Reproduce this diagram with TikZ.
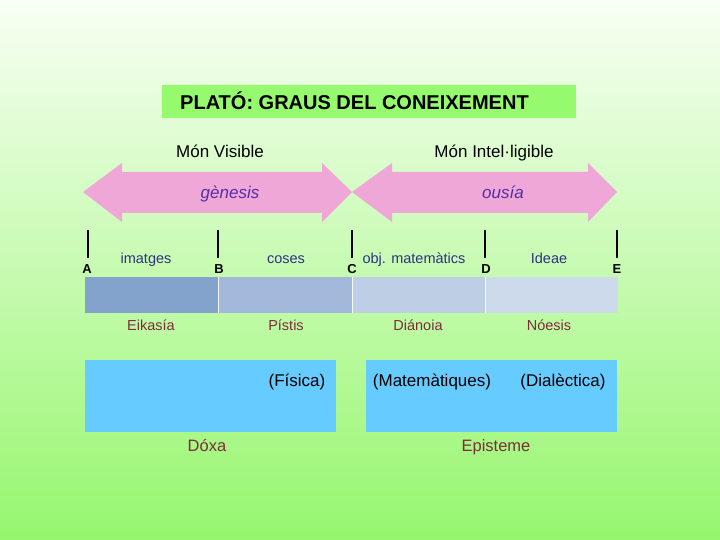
\documentclass[tikz,border=0pt]{standalone}
\usepackage{fontspec}
\setmainfont{Liberation Sans}
\definecolor{bgtop}{RGB}{248,255,244}
\definecolor{bgbot}{RGB}{150,246,110}
\definecolor{titlegreen}{RGB}{150,250,110}
\definecolor{arrowpink}{RGB}{239,167,216}
\definecolor{greekblue}{RGB}{85,45,165}
\definecolor{objblue}{RGB}{45,50,130}
\definecolor{stagered}{RGB}{125,45,60}
\definecolor{barA}{RGB}{131,162,204}
\definecolor{barB}{RGB}{162,185,219}
\definecolor{barC}{RGB}{190,206,229}
\definecolor{barD}{RGB}{205,218,236}
\definecolor{boxblue}{RGB}{102,204,255}
\tikzset{
  txt/.style={anchor=base, inner sep=0pt},
  objlabel/.style={txt, text=objblue, font=\fontsize{14.5}{16}\selectfont},
  ptlabel/.style={txt, font=\fontsize{13}{15}\selectfont\bfseries},
  stagelabel/.style={txt, text=stagered, font=\fontsize{14.5}{16}\selectfont},
  worldlabel/.style={txt, font=\fontsize{17}{19}\selectfont},
  greeklabel/.style={txt, text=greekblue, font=\fontsize{17}{19}\selectfont\itshape},
  sciencelabel/.style={txt, font=\fontsize{17}{19}\selectfont},
  bottomlabel/.style={txt, text=stagered, font=\fontsize{16.5}{18}\selectfont},
  tickline/.style={line width=1.6pt},
  bigarrow/.style={fill=arrowpink, draw=none},
  barsep/.style={draw=white!90!barB, line width=0.8pt},
}
\begin{document}
\begin{tikzpicture}[x=1pt,y=-1pt]
\useasboundingbox (0,0) rectangle (720,540);
\shade[top color=bgtop, bottom color=bgbot] (0,0) rectangle (720,540);
% title
\node[fill=titlegreen, minimum width=414pt, minimum height=33pt, inner sep=0pt] (titlebox) at (369,101.5) {};
\node[txt, anchor=base west, font=\fontsize{20}{22}\selectfont\bfseries] (title) at (180,110) {PLATÓ: GRAUS DEL CONEIXEMENT};
% worlds
\node[worldlabel] (visible) at (220,158) {Món Visible};
\node[worldlabel] (intel) at (494,158) {Món Intel·ligible};
% double arrows
\fill[bigarrow] (83,192) -- (122,163) -- (122,172) -- (322,172) -- (322,163) -- (352,192) -- (322,222) -- (322,213) -- (122,213) -- (122,222) -- cycle;
\fill[bigarrow] (352,192) -- (392,163) -- (392,172) -- (588,172) -- (588,163) -- (617,192) -- (588,222) -- (588,213) -- (392,213) -- (392,222) -- cycle;
\node[greeklabel] (genesis) at (230,198.5) {gènesis};
\node[greeklabel] (ousia) at (503,198.5) {ousía};
% ticks
\foreach \n/\x in {A/88,B/218,C/352,D/485,E/617}{
  \coordinate (t\n top) at (\x,230);
  \coordinate (t\n bot) at (\x,258);
  \draw[tickline] (t\n top) -- (t\n bot);
}
\node[ptlabel] (A) at (87,273) {A};
\node[ptlabel] (B) at (219,273) {B};
\node[ptlabel] (C) at (352,273) {C};
\node[ptlabel] (D) at (486,273) {D};
\node[ptlabel] (E) at (617,273) {E};
% objects
\node[objlabel] (imatges) at (146,263.5) {imatges};
\node[objlabel] (coses) at (286,263.5) {coses};
\node[objlabel] (objmat) at (414,263.5) {obj. matemàtics};
\node[objlabel] (ideae) at (549,263.5) {Ideae};
% bars
\fill[barA] (85,277) rectangle (218.5,313);
\fill[barB] (218.5,277) rectangle (352.5,313);
\fill[barC] (352.5,277) rectangle (485.5,313);
\fill[barD] (485.5,277) rectangle (618,313);
\foreach \n/\x in {one/218.5,two/352.5,three/485.5}{
  \coordinate (s\n top) at (\x,277);
  \coordinate (s\n bot) at (\x,313);
  \draw[barsep] (s\n top) -- (s\n bot);
}
% stages
\node[stagelabel] (eikasia) at (151,330) {Eikasía};
\node[stagelabel] (pistis) at (286,330) {Pístis};
\node[stagelabel] (dianoia) at (418,330) {Diánoia};
\node[stagelabel] (noesis) at (549,330) {Nóesis};
% blue boxes
\fill[boxblue] (85,360) rectangle (336,432);
\fill[boxblue] (366,360) rectangle (617,432);
\node[sciencelabel] (fisica) at (297,386) {(Física)};
\node[sciencelabel] (matematiques) at (432,386) {(Matemàtiques)};
\node[sciencelabel] (dialectica) at (563,386) {(Dialèctica)};
\node[bottomlabel] (doxa) at (207,451) {Dóxa};
\node[bottomlabel] (episteme) at (496,451) {Episteme};
\end{tikzpicture}
\end{document}
